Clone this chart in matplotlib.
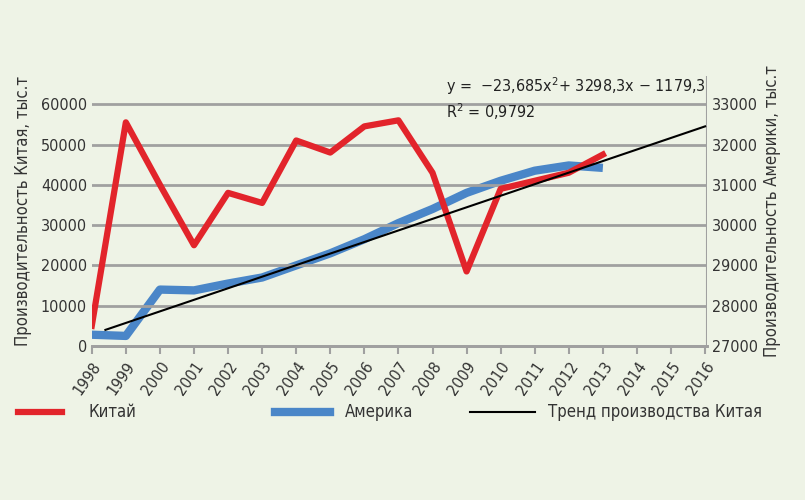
import matplotlib.pyplot as plt
from matplotlib.lines import Line2D

plt.rcParams['font.family'] = ['DejaVu Sans']
plt.rcParams['font.stretch'] = 'condensed'

years = list(range(1998, 2014))
china = [5000, 55500, 40000, 25000, 38000, 35500, 51000, 48000, 54500, 56000,
         43000, 18500, 39000, 41000, 43000, 47500]
america = [27280, 27250, 28400, 28380, 28550, 28700, 29000, 29300, 29650, 30050,
           30400, 30800, 31100, 31350, 31480, 31420]
trend_years = [1998.4, 2016]
trend_vals = [4000, 54500]
xticks = list(range(1998, 2017))

bg = '#eef3e6'
txt = '#333333'
fig = plt.figure(figsize=(8.05, 5.0), dpi=100, facecolor=bg)
ax = fig.add_axes([0.114, 0.308, 0.764, 0.54], facecolor=bg)
ax2 = ax.twinx()

ax.set_ylim(0, 67000)
ax.set_yticks(range(0, 60001, 10000))
ax2.set_ylim(27000, 33700)
ax2.set_yticks(range(27000, 33001, 1000))
ax.set_xlim(1998, 2016.05)
ax.set_xticks(xticks)
ax.set_xticklabels([str(y) for y in xticks], rotation=55, ha='right',
                   rotation_mode='anchor', fontsize=10.5)
ax.grid(axis='y', color='#a0a0a0', lw=2)
ax.set_axisbelow(True)
for a in (ax, ax2):
    for s in ('top', 'right', 'left'):
        a.spines[s].set_visible(False)
    a.spines['bottom'].set_color('#a0a0a0')
    a.spines['bottom'].set_linewidth(2)
    a.tick_params(labelsize=11.5, colors=txt, length=0)
ax.tick_params(axis='x', length=6, color='#a0a0a0', width=1.5)
ax.axvline(2016.05, color='#a0a0a0', lw=1.5)

ax2.plot(years, america, color='#4a86c8', lw=6, solid_capstyle='butt', zorder=2)
ax.plot(years, china, color='#e2242b', lw=4.5, zorder=3)
ax.plot(trend_years, trend_vals, color='black', lw=1.5, zorder=4)
ax.set_zorder(ax2.get_zorder() + 1)
ax.patch.set_visible(False)

ax.set_ylabel('Производительность Китая, тыс.т', fontsize=12, color=txt, labelpad=6)
ax2.set_ylabel('Производительность Америки, тыс.т', fontsize=12, color=txt, labelpad=4)

ax.text(2008.4, 63000, 'y =  −23,685x$^2$+ 3298,3x − 1179,3', fontsize=11.5, color='#222222')
ax.text(2008.4, 56500, 'R$^2$ = 0,9792', fontsize=11.5, color='#222222')

legend = [('#e2242b', 4.5, 18, 62, 88, 'Китай'),
          ('#4a86c8', 6, 275, 330, 345, 'Америка'),
          ('black', 1.5, 470, 535, 548, 'Тренд производства Китая')]
for color, lw, x0, x1, tx, label in legend:
    fig.add_artist(Line2D([x0 / 805, x1 / 805], [0.176, 0.176], color=color, lw=lw))
    fig.text(tx / 805, 0.176, label, fontsize=12, color=txt, va='center')

fig.savefig('out.png', dpi=100, facecolor=bg)
